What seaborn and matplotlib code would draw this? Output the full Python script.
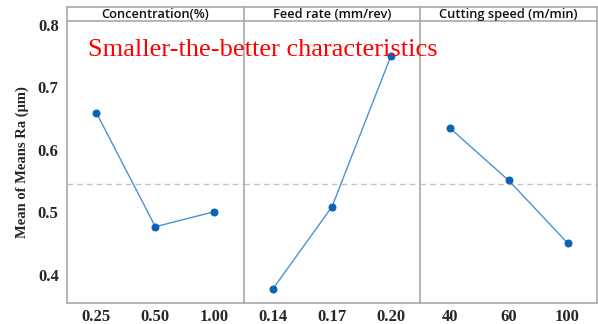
import matplotlib
matplotlib.use("Agg")
import matplotlib.pyplot as plt
import seaborn as sns
import pandas as pd

# ---- data ----
factors = ["Concentration(%)", "Feed rate (mm/rev)", "Cutting speed (m/min)"]
conc_levels = ["0.25", "0.50", "1.00"]
conc_means = [0.659, 0.477, 0.501]
feed_levels = ["0.14", "0.17", "0.20"]
feed_means = [0.378, 0.509, 0.750]
speed_levels = ["40", "60", "100"]
speed_means = [0.635, 0.551, 0.451]
y_ticks = [0.4, 0.5, 0.6, 0.7, 0.8]
grand_mean = 0.5456
title_text = "Smaller-the-better characteristics"
y_label = "Mean of Means Ra (\u03bcm)"

sns.set_style("white")
plt.rcParams["font.family"] = ["DejaVu Sans"]

W, H = 598, 324
fig = plt.figure(figsize=(W / 100, H / 100), dpi=100)

left_px, right_px = 67, 597
top_px, head_px, bot_px = 7, 21, 303
pw = (right_px - left_px) / 3

panels = [(conc_levels, conc_means), (feed_levels, feed_means), (speed_levels, speed_means)]
gray = "#a8a8a8"
line_c = "#4a93d4"
mark_c = "#0b63b3"
serif = ["Liberation Serif", "DejaVu Serif"]

for i, (levels, means) in enumerate(panels):
    x0 = (left_px + i * pw) / W
    ax = fig.add_axes([x0, 1 - bot_px / H, pw / W, (bot_px - head_px) / H])
    df = pd.DataFrame({"level": levels, "mean": means})
    sns.lineplot(data=df, x="level", y="mean", ax=ax, color=line_c, lw=1.0,
                 marker="o", markersize=5, markerfacecolor=mark_c,
                 markeredgecolor=mark_c, sort=False)
    ax.axhline(grand_mean, color="#c4c4c4", ls=(0, (4, 3)), lw=1.0, zorder=0)
    ax.set_xlim(-0.5, 2.5)
    ax.set_ylim(0.355, 0.806)
    ax.set_xlabel("")
    ax.set_ylabel("")
    for s in ax.spines.values():
        s.set_color(gray)
        s.set_linewidth(1.2)
    ax.spines["top"].set_visible(False)
    if i < 2:
        ax.spines["right"].set_visible(False)
    ax.set_yticks(y_ticks)
    ax.tick_params(axis="x", length=0, pad=4, labelsize=12)
    for lab in ax.get_xticklabels():
        lab.set_fontfamily(serif)
        lab.set_fontweight("bold")
    if i == 0:
        ax.tick_params(axis="y", length=3, color=gray, labelsize=12, pad=3)
        ax.set_yticklabels([f"{t:.1f}" for t in y_ticks])
        for lab in ax.get_yticklabels():
            lab.set_fontfamily(serif)
            lab.set_fontweight("bold")
        ax.set_ylabel(y_label, fontfamily=serif, fontweight="bold", fontsize=10.5, labelpad=6)
    else:
        ax.tick_params(axis="y", left=False, labelleft=False)

    hax = fig.add_axes([x0, 1 - head_px / H, pw / W, (head_px - top_px) / H])
    hax.set_xticks([])
    hax.set_yticks([])
    for k, s in hax.spines.items():
        s.set_color(gray)
        s.set_linewidth(1.2)
    if i < 2:
        hax.spines["right"].set_visible(False)
    hax.text(0.5, 0.45, factors[i], ha="center", va="center", fontsize=9.3,
             fontfamily=["Open Sans", "DejaVu Sans"], fontweight="semibold",
             color="#111111", transform=hax.transAxes)

fig.text(88 / W, 1 - 56 / H, title_text, color="#ff0000", fontsize=19,
         fontfamily=serif, ha="left", va="baseline")

fig.savefig("out.png", dpi=100)
